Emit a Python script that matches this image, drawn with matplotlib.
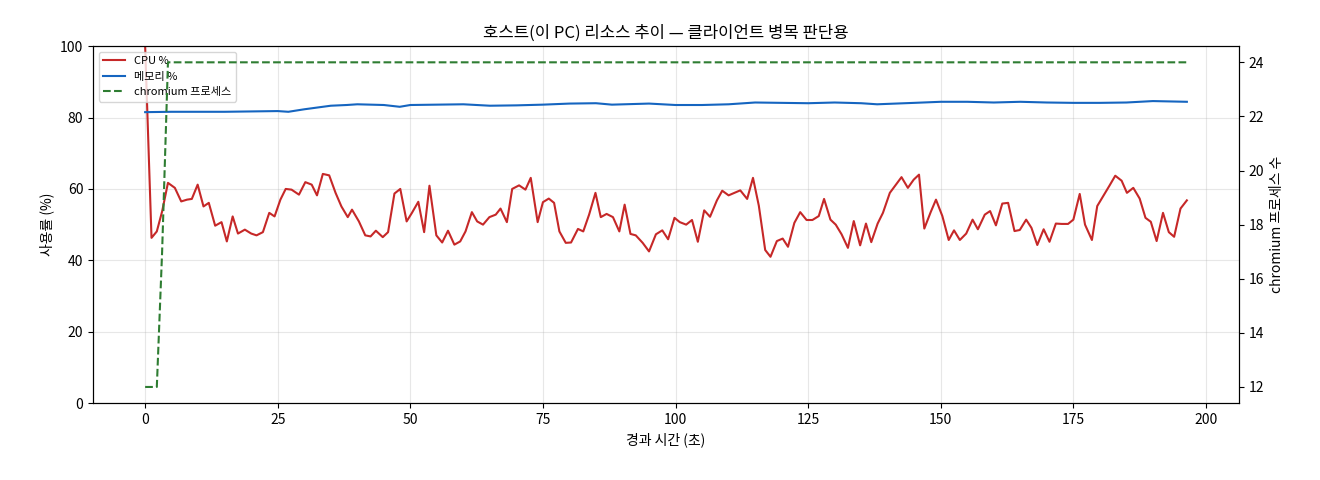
import matplotlib
matplotlib.use("Agg")
import matplotlib.pyplot as plt

plt.rcParams["font.family"] = ["Noto Sans CJK KR", "DejaVu Sans"]

# seconds since start, CPU %
cpu_t = [0, 1.2, 2.2, 3.2, 4.3, 5.6, 6.8, 7.9, 8.8, 9.9, 11.0, 12.0, 13.2, 14.4, 15.4,
         16.5, 17.5, 18.8, 20.0, 21.0, 22.2, 23.4, 24.4, 25.5, 26.5, 27.6, 29.0, 30.2,
         31.4, 32.4, 33.5, 34.7, 35.9, 37.0, 38.2, 39.0, 40.3, 41.5, 42.5, 43.5, 44.8,
         45.8, 47.0, 48.1, 49.3, 50.3, 51.5, 52.6, 53.6, 54.9, 56.0, 57.1, 58.3, 59.4,
         60.4, 61.6, 62.6, 63.7, 64.9, 66.1, 67.0, 68.2, 69.2, 70.5, 71.7, 72.7, 74.0,
         75.0, 76.1, 77.1, 78.1, 79.3, 80.3, 81.6, 82.6, 83.7, 84.9, 85.9, 87.0, 88.2,
         89.4, 90.4, 91.5, 92.5, 93.8, 95.0,
         96.3, 97.5, 98.6, 99.8, 100.8, 102.0, 103.1, 104.2, 105.4, 106.5, 107.8, 108.8,
         110.0, 111.1, 112.2, 113.5, 114.6, 115.7, 116.9, 117.9, 119.1, 120.2, 121.2,
         122.4, 123.5, 124.7, 125.8, 127.0, 128.0, 129.2, 130.2, 131.3, 132.5, 133.6,
         134.8, 135.9, 136.9, 138.1, 139.1, 140.4, 141.4, 142.6, 143.8, 144.9, 145.9,
         146.9, 148.1, 149.1, 150.3, 151.5, 152.5, 153.6, 154.8, 156.0, 157.0, 158.3,
         159.3, 160.4, 161.6, 162.7, 163.9, 164.9, 166.1, 167.1, 168.2, 169.4, 170.5,
         171.7, 172.8, 174.0, 175.0, 176.2, 177.2, 178.5, 179.5, 180.8, 181.8, 182.9,
         184.1, 185.1, 186.3, 187.5, 188.6, 189.6, 190.7, 191.9, 193.0, 194.0, 195.2,
         196.4]
cpu = [100, 46.3, 48.1, 53.7, 61.7, 60.3, 56.5, 57.0, 57.2, 61.2, 55.1, 56.1, 49.7, 50.7,
       45.3, 52.3, 47.5, 48.6, 47.5, 47.0, 47.9, 53.3, 52.3, 57.0, 60.0, 59.8, 58.4, 61.9,
       61.2, 58.2, 64.2, 63.8, 58.9, 55.1, 52.1, 54.2, 50.9, 47.0, 46.7, 48.3, 46.5, 47.9,
       58.7, 60.0, 50.9, 53.3, 56.4, 47.9, 60.9, 47.0, 45.0, 48.3, 44.4, 45.3, 48.1, 53.5,
       50.9, 50.0, 52.1, 52.8, 54.5, 50.7, 60.0, 61.0, 59.8, 63.1, 50.7, 56.3, 57.3, 56.1,
       48.1, 44.9, 45.0, 48.8, 48.1, 52.8, 58.9, 52.1, 53.0, 52.1, 48.1, 55.6, 47.4, 47.0,
       44.9, 42.5,
       47.3, 48.4, 45.9, 51.9, 50.7, 50.0, 51.3, 45.2, 54.0, 52.2, 56.8, 59.5, 58.2, 58.9,
       59.6, 57.2, 63.1, 55.3, 42.9, 41.0, 45.4, 46.1, 43.8, 50.5, 53.5, 51.3, 51.3, 52.4,
       57.2, 51.4, 50.0, 47.3, 43.5, 51.0, 44.2, 50.3, 45.1, 50.3, 53.3, 58.9, 60.9, 63.3,
       60.3, 62.6, 64.0, 48.9, 53.5, 57.0, 52.4, 45.7, 48.4, 45.7, 47.5, 51.4, 48.7, 52.8,
       53.8, 49.8, 55.9, 56.1, 48.2, 48.5, 51.4, 49.1, 44.3, 48.7, 45.2, 50.3, 50.2, 50.2,
       51.4, 58.6, 50.0, 45.7, 55.2, 58.4, 60.9, 63.7, 62.3, 58.9, 60.3, 57.3, 51.9, 50.8,
       45.4, 53.3, 47.9, 46.6, 54.5, 56.8]

mem_t = [0, 5, 10, 15, 20, 25, 27, 30, 35, 38, 40, 45, 48, 50, 55, 60, 65, 70, 75, 80,
         85, 88, 95, 100, 105, 110, 115, 120, 125, 130, 135, 138, 145, 150, 155, 160,
         165, 170, 175, 180, 185, 190, 196.4]
mem = [81.5, 81.6, 81.6, 81.6, 81.7, 81.8, 81.6, 82.3, 83.3, 83.5, 83.7, 83.5, 83.0,
       83.5, 83.6, 83.7, 83.3, 83.4, 83.6, 83.9, 84.0, 83.6, 83.9, 83.5, 83.5, 83.7,
       84.2, 84.1, 84.0, 84.2, 84.0, 83.7, 84.1, 84.4, 84.4, 84.2, 84.4, 84.2, 84.1,
       84.1, 84.2, 84.6, 84.4]

proc_t = [0, 1.2, 2.2, 3.2, 4.3, 196.4]
procs = [12, 12, 12, 17, 24, 24]

fig, ax = plt.subplots(figsize=(13.2, 4.8), dpi=100)
fig.subplots_adjust(left=0.0705, right=0.9386, top=0.904, bottom=0.16)

l1, = ax.plot(cpu_t, cpu, color="#c62828", lw=1.5, label="CPU %")
l2, = ax.plot(mem_t, mem, color="#1565c0", lw=1.5, label="메모리 %")
ax.set_ylim(0, 100)
ax.set_ylabel("사용률 (%)")
ax.set_xlabel("경과 시간 (초)")
ax.set_title("호스트(이 PC) 리소스 추이 — 클라이언트 병목 판단용", fontsize=12)
ax.grid(alpha=0.3)

ax2 = ax.twinx()
l3, = ax2.plot(proc_t, procs, color="#2e7d32", lw=1.5, ls="--", label="chromium 프로세스")
ax2.set_ylabel("chromium 프로세스 수")
ax2.set_ylim(11.4, 24.6)

ax.legend(handles=[l1, l2, l3], loc="upper left", fontsize=8)

fig.savefig("out.png")
